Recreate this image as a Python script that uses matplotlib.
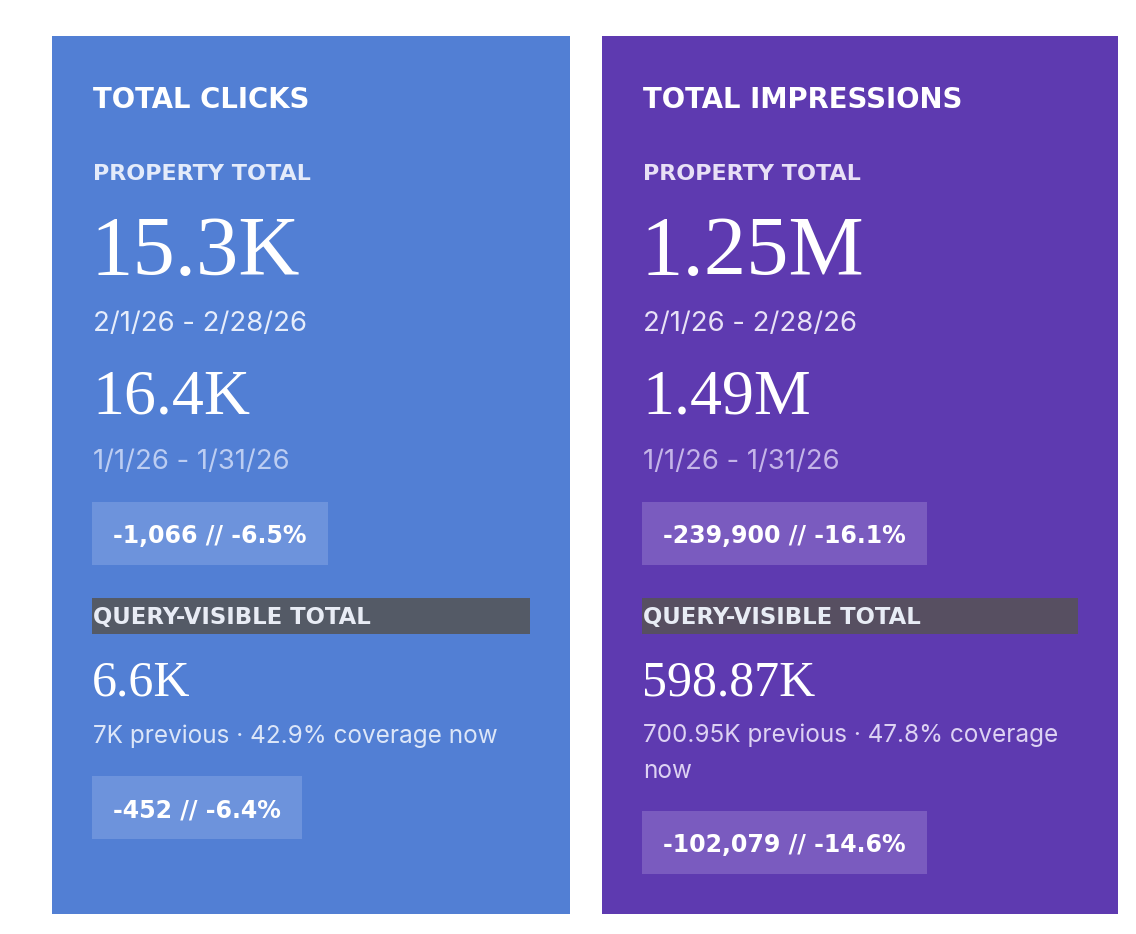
import matplotlib
matplotlib.use("Agg")
import matplotlib.pyplot as plt
from matplotlib.patches import Rectangle

# card data
titles = ["TOTAL CLICKS", "TOTAL IMPRESSIONS"]
current_totals = ["15.3K", "1.25M"]
previous_totals = ["16.4K", "1.49M"]
current_ranges = ["2/1/26 - 2/28/26", "2/1/26 - 2/28/26"]
previous_ranges = ["1/1/26 - 1/31/26", "1/1/26 - 1/31/26"]
property_deltas = ["-1,066 // -6.5%", "-239,900 // -16.1%"]
query_totals = ["6.6K", "598.87K"]
query_notes = ["7K previous · 42.9% coverage now",
               "700.95K previous · 47.8% coverage\nnow"]
query_deltas = ["-452 // -6.4%", "-102,079 // -14.6%"]

# styling per card
card_left = [52, 602]
card_width = [518, 516]
card_color = ["#527FD4", "#5E3AB0"]
badge_color = ["#6D93DC", "#7A5BBF"]
bar_color = ["#545A66", "#574F61"]
label_color = ["#E4EBFA", "#E8E0F6"]
date_color = ["#E6EDFB", "#E8E1F6"]
date2_color = ["#BCCDF2", "#C4B4E8"]
note_color = ["#DCE6F8", "#DDD2F3"]

W, H = 1136, 934
fig = plt.figure(figsize=(W / 100, H / 100), dpi=100, facecolor="white")
ax = fig.add_axes([0, 0, 1, 1])
ax.set_xlim(0, W)
ax.set_ylim(H, 0)
ax.axis("off")
renderer = fig.canvas.get_renderer()

caps = dict(family=["DejaVu Sans"], weight="bold")
body = dict(family=["Inter", "Lato", "DejaVu Sans"])
serif = dict(family=["Liberation Serif", "DejaVu Serif"])


def badge(x, top, txt, fc):
    t = ax.text(x + 21, top + 41, txt, color="white", fontsize=17,
                va="baseline", ha="left", zorder=3, **caps)
    bb = t.get_window_extent(renderer=renderer)
    ax.add_patch(Rectangle((x, top), bb.width + 42, 63, facecolor=fc,
                           edgecolor="none", zorder=2))


for i in range(2):
    x0 = card_left[i]
    ax.add_patch(Rectangle((x0, 36), card_width[i], 878,
                           facecolor=card_color[i], edgecolor="none", zorder=1))
    x = x0 + 41
    ax.text(x, 108, titles[i], color="white", fontsize=19.8,
            va="baseline", zorder=3, **caps)
    ax.text(x, 180, "PROPERTY TOTAL", color=label_color[i], fontsize=16,
            va="baseline", zorder=3, **caps)
    ax.text(x - 2, 275, current_totals[i], color="white", fontsize=61,
            va="baseline", zorder=3, **serif)
    ax.text(x, 331, current_ranges[i], color=date_color[i], fontsize=19.8,
            va="baseline", zorder=3, **body)
    ax.text(x - 1, 413, previous_totals[i], color="white", fontsize=46,
            va="baseline", zorder=3, **serif)
    ax.text(x, 469, previous_ranges[i], color=date2_color[i], fontsize=19.8,
            va="baseline", zorder=3, **body)

    badge(x0 + 40, 502, property_deltas[i], badge_color[i])

    ax.add_patch(Rectangle((x0 + 40, 598), card_width[i] - 80, 36,
                           facecolor=bar_color[i], edgecolor="none", zorder=2))
    ax.text(x, 624, "QUERY-VISIBLE TOTAL", color="#E8ECF5", fontsize=16.4,
            va="baseline", zorder=3, **caps)
    ax.text(x - 1, 695, query_totals[i], color="white", fontsize=36,
            va="baseline", zorder=3, **serif)
    extra = 35 * query_notes[i].count("\n")
    # multi-line text is aligned on the baseline of its last line
    ax.text(x, 743 + extra, query_notes[i], color=note_color[i], fontsize=17.5,
            va="baseline", linespacing=1.7, zorder=3, **body)
    badge(x0 + 40, 776 + extra, query_deltas[i], badge_color[i])

fig.savefig("out.png", dpi=100, facecolor="white")
